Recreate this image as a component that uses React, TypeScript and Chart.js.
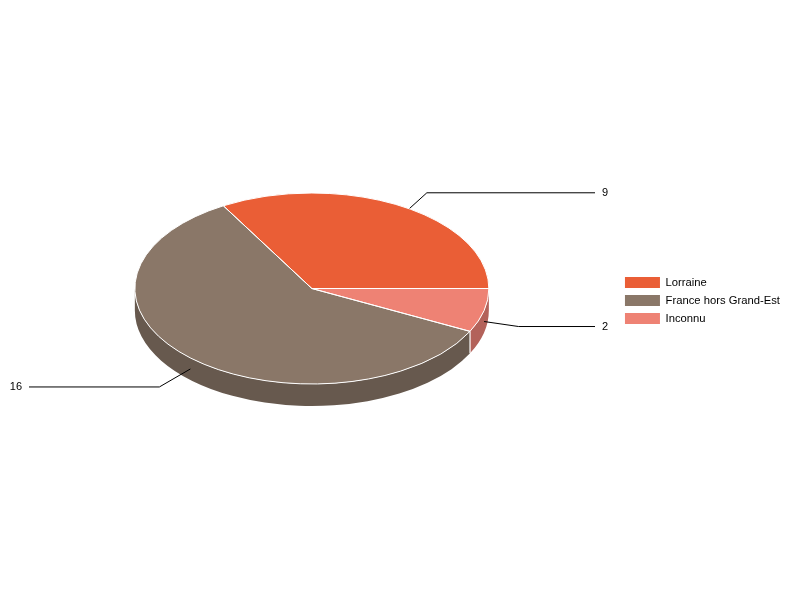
import React, { useEffect, useRef } from "react";
import { Chart, registerables } from "chart.js";

Chart.register(...registerables);

const categories = ["Lorraine", "France hors Grand-Est", "Inconnu"];
const values = [9, 16, 2];
const topColors = ["#EA5E36", "#8A7768", "#EE8274"];
const wallColors = ["#B0472A", "#67594E", "#B3625A"];

const FONT = "Arial, 'Liberation Sans', sans-serif";
const LEGEND_FONT_SIZE = 11.25;
const TILT = 95.5 / 177;
const DEPTH = 22;
const RADIUS = 177;
const SHIFT_Y = -12; // pie sits above the vertical centre of the canvas
const TAU = Math.PI * 2;

// leader-line layout per slice: elbow offset from the anchor, end of the horizontal run
const leaderElbow = [
  [26.5, -24],
  [-31, 18],
  [34.5, 5],
];
const leaderEnd = [595, 29, 595];

const pie3d = {
  id: "pie3d",
  beforeDatasetsDraw(chart: any) {
    const { ctx } = chart;
    const arcs = chart.getDatasetMeta(0).data;
    const cx = arcs[0].x;
    const cy = arcs[0].y + SHIFT_Y;

    // side walls: the part of each slice on the near half of the ellipse
    arcs.forEach((arc: any, i: number) => {
      const a = Math.max(arc.startAngle, Math.PI);
      const b = Math.min(arc.endAngle, TAU);
      if (b <= a) return;
      ctx.save();
      ctx.beginPath();
      ctx.ellipse(cx, cy, arc.outerRadius, arc.outerRadius * TILT, 0, -a, -b, true);
      ctx.ellipse(cx, cy + DEPTH, arc.outerRadius, arc.outerRadius * TILT, 0, -b, -a, false);
      ctx.closePath();
      ctx.fillStyle = wallColors[i];
      ctx.fill();
      ctx.restore();
    });

    // white seam between two visible walls
    arcs.forEach((arc: any) => {
      const e = arc.endAngle;
      if (e > Math.PI && e < TAU - 1e-6) {
        const x = cx + arc.outerRadius * Math.cos(e);
        const y = cy - arc.outerRadius * TILT * Math.sin(e);
        ctx.save();
        ctx.strokeStyle = "#fff";
        ctx.lineWidth = 1.2;
        ctx.beginPath();
        ctx.moveTo(x, y);
        ctx.lineTo(x, y + DEPTH);
        ctx.stroke();
        ctx.restore();
      }
    });

    // leader lines and value labels: the top face is painted over their start
    arcs.forEach((arc: any, i: number) => {
      const mid = (arc.startAngle + arc.endAngle) / 2;
      const ax = cx + arc.outerRadius * Math.cos(mid);
      const ay = cy - arc.outerRadius * TILT * Math.sin(mid) + DEPTH / 2;
      const ex = ax + leaderElbow[i][0];
      const ey = ay + leaderElbow[i][1];
      ctx.save();
      ctx.strokeStyle = "#000";
      ctx.lineWidth = 1;
      ctx.beginPath();
      ctx.moveTo(ax, ay);
      ctx.lineTo(ex, ey);
      ctx.lineTo(leaderEnd[i], ey);
      ctx.stroke();
      ctx.fillStyle = "#000";
      ctx.font = `11px ${FONT}`;
      ctx.textBaseline = "middle";
      const right = leaderEnd[i] > ex;
      ctx.textAlign = right ? "left" : "right";
      ctx.fillText(String(values[i]), leaderEnd[i] + (right ? 7 : -7), ey + 0.5);
      ctx.restore();
    });

    // squash and flip so that Chart.js paints the top face counter-clockwise
    ctx.save();
    ctx.translate(cx, cy);
    ctx.scale(1, -TILT);
    ctx.translate(-arcs[0].x, -arcs[0].y);
  },
  afterDatasetsDraw(chart: any) {
    const { ctx } = chart;
    ctx.restore();
    const arcs = chart.getDatasetMeta(0).data;
    const cx = arcs[0].x;
    const cy = arcs[0].y + SHIFT_Y;
    ctx.save();
    ctx.strokeStyle = "#fff";
    ctx.lineWidth = 1;
    arcs.forEach((arc: any) => {
      ctx.beginPath();
      ctx.moveTo(cx, cy);
      ctx.ellipse(cx, cy, arc.outerRadius, arc.outerRadius * TILT, 0, -arc.startAngle, -arc.endAngle, true);
      ctx.closePath();
      ctx.stroke();
    });
    ctx.restore();
  },
};

export default function App() {
  const ref = useRef<HTMLCanvasElement | null>(null);
  useEffect(() => {
    if (!ref.current) return;
    const chart = new Chart(ref.current, {
      type: "pie",
      data: {
        labels: categories,
        datasets: [{ data: values, backgroundColor: topColors, borderWidth: 0 }],
      },
      options: {
        animation: false,
        responsive: false,
        devicePixelRatio: 1,
        rotation: 90,
        radius: RADIUS,
        layout: { padding: { left: 5.5, right: 10, top: 1 } },
        plugins: {
          tooltip: { enabled: false },
          title: { display: false },
          legend: {
            display: true,
            position: "right",
            labels: {
              boxWidth: 35,
              boxHeight: 11,
              padding: 6.75,
              color: "#000",
              font: { family: FONT, size: LEGEND_FONT_SIZE },
            },
          },
        },
      },
      plugins: [pie3d],
    } as any);
    return () => chart.destroy();
  }, []);
  return (
    <div style={{ position: "absolute", left: 0, top: 0, width: 800, height: 600, background: "#fff" }}>
      <canvas ref={ref} width={800} height={600} style={{ display: "block", width: 800, height: 600 }} />
    </div>
  );
}
